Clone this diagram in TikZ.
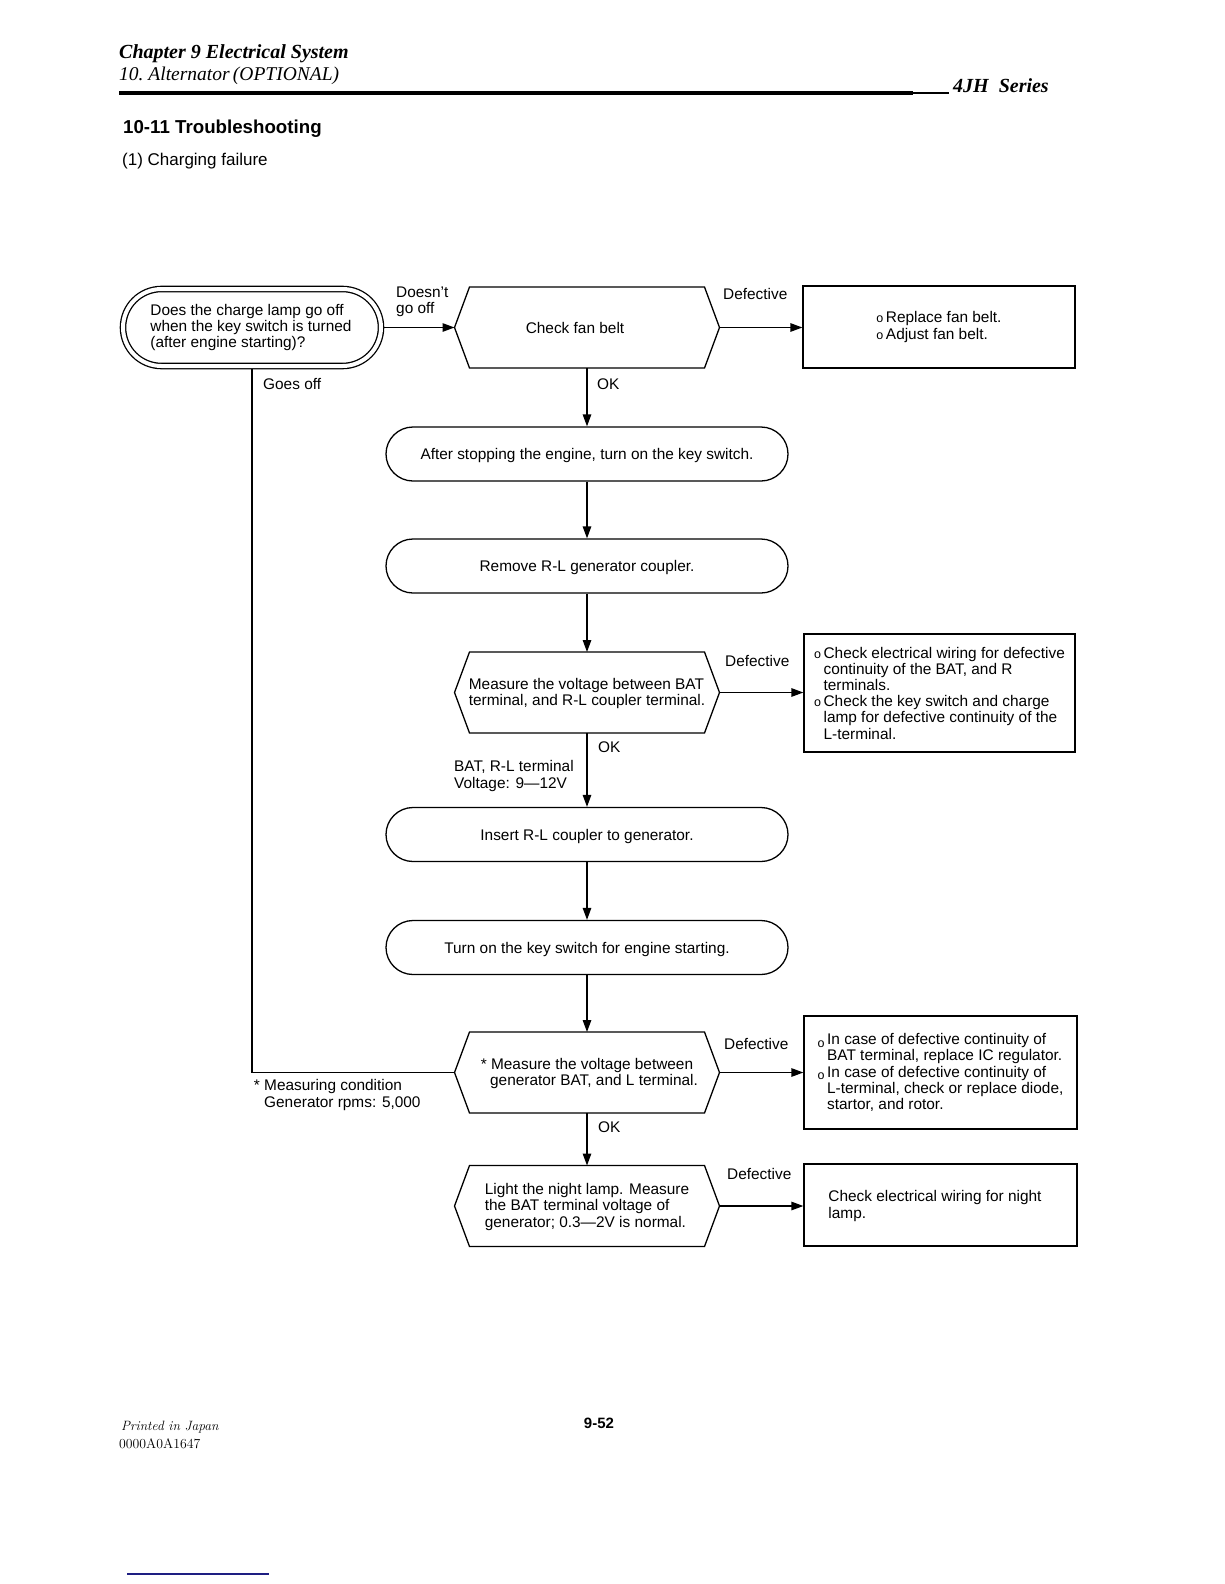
\documentclass[tikz,border=0pt]{standalone}
\usepackage{fontspec}
\newfontfamily\hv{Liberation Sans}
\newfontfamily\tms{Liberation Serif}
\usetikzlibrary{arrows.meta}
\newcommand\bul{{\fontsize{12.5}{12}\selectfont o}\,}
\newcommand\bulb{\raisebox{-2.5pt}{\fontsize{12.5}{12}\selectfont o}\,}
\newcommand\ind{\hphantom{\bul}}
\newcommand\hexframe[1]{\draw[ln] (#1.west) -- ([xshift=15pt]#1.north west) -- ([xshift=-15pt]#1.north east) -- (#1.east) -- ([xshift=-15pt]#1.south east) -- ([xshift=15pt]#1.south west) -- cycle;}
\begin{document}
\begin{tikzpicture}[x=1pt,y=-1pt,
  every node/.style={font=\hv\fontsize{15.4}{16.2}\selectfont, inner sep=0pt},
  ln/.style={line width=1.3pt},
  arr/.style={ln, -{Triangle[length=12pt,width=8.5pt]}},
  stad/.style={draw, ln, minimum width=402pt, minimum height=54pt, rounded corners=27pt, text height=11pt, text depth=0pt},
  hexn/.style={minimum width=265pt, minimum height=81pt, outer sep=0pt, align=left},
  boxn/.style={draw, ln, align=left},
  lbl/.style={anchor=west, align=left},
  hdr/.style={anchor=base west, font=\tms\bfseries\itshape\fontsize{20}{20}\selectfont}]
\useasboundingbox (0,0) rectangle (1224,1584);
\fill[white] (0,0) rectangle (1224,1584);

% header
\node[hdr] (chap) at (119,58.5) {Chapter 9 Electrical System};
\node[hdr, font=\tms\itshape\fontsize{19.5}{20}\selectfont] (sec) at (119,81) {10.\ Alternator\,(OPTIONAL)};
\node[hdr] (series) at (953,92.5) {4JH\ \ Series};
\draw[line width=4pt] (119,93) -- (913,93);
\draw[line width=2pt] (913,93) -- (949,93);
\node[anchor=base west, font=\hv\bfseries\fontsize{18.7}{20}\selectfont] (title) at (123,134) {10-11 Troubleshooting};
\node[anchor=base west, font=\hv\fontsize{17}{18}\selectfont] (sub) at (122,165) {(1) Charging failure};

% flowchart
\node[draw, ln, double, double distance=4pt, minimum width=258pt, minimum height=77pt,
  rounded corners=38.5pt, outer sep=3.3pt, align=left] (n1) at (252,327.5)
  {\hspace*{-2pt}Does the charge lamp go off\\\hspace*{-2pt}when the key switch is turned\\\hspace*{-2pt}(after engine starting)?};

\node[hexn] (h1) at (587,327.5) {Check fan belt\rule{24pt}{0pt}};
\hexframe{h1}
\node[boxn, minimum width=272pt, minimum height=82pt] (b1) at (939,327)
  {\bul Replace fan belt.\\\bul Adjust fan belt.};

\node[stad] (s1) at (587,454) {After stopping the engine, turn on the key switch.};
\node[stad] (s2) at (587,566) {Remove R-L generator coupler.};

\node[hexn] (h2) at (587,692.5) {\rule{0pt}{13pt}Measure the voltage between BAT\\terminal, and R-L coupler terminal.};
\hexframe{h2}
\node[boxn, minimum width=271pt, minimum height=118pt] (b2) at (939.5,693)
  {\bul Check electrical wiring for defective\\
   \ind continuity of the BAT, and R\\
   \ind terminals.\\
   \bul Check the key switch and charge\\
   \ind lamp for defective continuity of the\\
   \ind L-terminal.};

\node[stad] (s3) at (587,834.5) {Insert R-L coupler to generator.};
\node[stad] (s4) at (587,947.5) {Turn on the key switch for engine starting.};

\node[hexn, align=center] (h3) at (587,1072.5) {\rule{0pt}{13pt}* Measure the voltage between\\\hspace*{14pt}generator BAT, and L terminal.};
\hexframe{h3}
\node[boxn, minimum width=273pt, minimum height=113pt] (b3) at (940.5,1072.5)
  {\bulb In case of defective continuity of\\
   \ind BAT terminal, replace IC regulator.\\
   \bulb In case of defective continuity of\\
   \ind L-terminal, check or replace diode,\\
   \ind startor, and rotor.};

\node[hexn] (h4) at (587,1206) {\rule{0pt}{13pt}Light the night lamp. Measure\\the BAT terminal voltage of\\generator; 0.3—2V is normal.};
\hexframe{h4}
\node[boxn, minimum width=273pt, minimum height=82pt] (b4) at (940.5,1205)
  {\rule{0pt}{13pt}Check electrical wiring for night\rule{11pt}{0pt}\\lamp.};

% connectors
\draw[arr] (n1.east) -- (h1.west);
\draw[arr] (h1.east) -- (h1.east -| b1.west);
\draw[arr] (h1.south) -- (s1.north);
\draw[arr] (s1.south) -- (s2.north);
\draw[arr] (s2.south) -- (h2.north);
\draw[arr] (h2.east) -- (h2.east -| b2.west);
\draw[arr] (h2.south) -- (s3.north);
\draw[arr] (s3.south) -- (s4.north);
\draw[arr] (s4.south) -- (h3.north);
\draw[arr] (h3.east) -- (h3.east -| b3.west);
\draw[arr] (h3.south) -- (h4.north);
\draw[arr] (h4.east) -- (h4.east -| b4.west);
\draw[ln] (n1.south) |- (h3.west);

% labels
\node[lbl] (lDo) at (396,302) {Doesn’t\\go off};
\node[lbl] (lD1) at (723,294) {Defective};
\node[lbl] (lGo) at (263,384) {Goes off};
\node[lbl] (lOK1) at (597,384) {OK};
\node[lbl] (lD2) at (725,661) {Defective};
\node[lbl] (lOK2) at (598,747) {OK};
\node[lbl] (lBAT) at (454,776) {BAT, R-L terminal\\Voltage: 9—12V};
\node[lbl] (lD3) at (724,1044) {Defective};
\node[lbl] (lMeas) at (264,1095) {\llap{*\ }Measuring condition\\Generator rpms: 5,000};
\node[lbl] (lOK3) at (598,1127) {OK};
\node[lbl] (lD4) at (727,1174) {Defective};

% footer
\node[anchor=base west, font=\rmfamily\itshape\fontsize{13.5}{15}\selectfont\addfontfeature{LetterSpace=10}] (pj) at (121,1430) {Printed in Japan};
\node[anchor=base west, font=\rmfamily\fontsize{13.8}{15}\selectfont] (code) at (119,1448) {0000A0A1647};
\node[anchor=base, font=\hv\bfseries\fontsize{15}{16}\selectfont] (pg) at (599,1428) {9-52};
\draw[line width=1.6pt, draw={rgb,255:red,30;green,30;blue,130}] (127,1574) -- (269,1574);
\end{tikzpicture}
\end{document}
